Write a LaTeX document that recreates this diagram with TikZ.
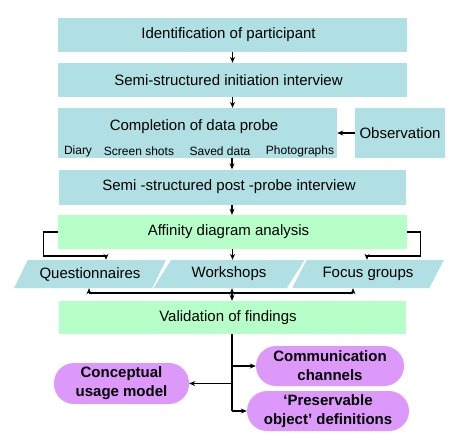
\documentclass[tikz,border=0pt]{standalone}
\usepackage{fontspec}
\setmainfont{Liberation Sans}
\usetikzlibrary{shapes.geometric,arrows.meta,calc}
\definecolor{cyanbox}{RGB}{176,224,228}
\definecolor{greenbox}{RGB}{183,255,200}
\definecolor{purplebox}{RGB}{221,153,250}
\newcommand{\textnudge}{\hspace*{8pt}}
\begin{document}
\begin{tikzpicture}[x=1pt,y=-1pt,
  bluebox/.style={fill=cyanbox,draw=none,inner sep=0pt,font=\fontsize{15}{17}\selectfont},
  greenstep/.style={fill=greenbox,draw=none,inner sep=0pt,font=\fontsize{15}{17}\selectfont},
  para/.style={trapezium,trapezium left angle=51,trapezium right angle=129,trapezium stretches=true,
    fill=cyanbox,draw=none,inner sep=0pt,minimum width=152pt,minimum height=28pt,font=\fontsize{15}{17}\selectfont},
  pill/.style={fill=purplebox,draw=none,rounded corners=20pt,inner sep=0pt,align=center,
    font=\fontsize{15}{19}\selectfont\bfseries},
  lbl/.style={inner sep=0pt,font=\fontsize{15}{17}\selectfont},
  small/.style={inner sep=0pt,font=\fontsize{12}{14}\selectfont},
  conn/.style={line width=1.2pt},
  arr/.style={line width=1.2pt,-{Stealth[length=6pt,width=5pt]}}
]
\useasboundingbox (0,0) rectangle (462,445);
\fill[white] (0,0) rectangle (462,445);

\node[bluebox,minimum width=349pt,minimum height=34pt] (b1) at (232.5,35) {Identification of participant\textnudge};
\node[bluebox,minimum width=349pt,minimum height=34pt] (b2) at (232.5,80) {Semi-structured initiation interview\textnudge};
\node[bluebox,minimum width=279pt,minimum height=50pt] (b3) at (197.5,133) {};
\node[lbl] (b3t) at (194,127) {Completion of data probe};
\node[small] (s1) at (78,151) {Diary};
\node[small] (s2) at (139,151) {Screen shots};
\node[small] (s3) at (220,151) {Saved data};
\node[small] (s4) at (300,151) {Photographs};
\node[bluebox,minimum width=90pt,minimum height=50pt] (obs) at (400,133) {Observation};
\node[bluebox,minimum width=347pt,minimum height=35pt] (b4) at (232,187) {Semi -structured post -probe interview\hspace*{6pt}};
\node[greenstep,minimum width=349pt,minimum height=34pt] (b5) at (232.5,232) {Affinity diagram analysis\textnudge};

\node[para] (q) at (90,274) {Questionnaires};
\node[para] (w) at (229,274) {Workshops};
\node[para] (f) at (368,274) {Focus groups};

\node[greenstep,minimum width=347pt,minimum height=33pt] (v) at (232,317.5) {Validation of findings\textnudge};

\node[pill,minimum width=148pt,minimum height=40pt] (c) at (330,366) {Communication\\channels};
\node[pill,minimum width=135pt,minimum height=41pt] (cu) at (121.5,383.5) {Conceptual\\usage model};
\node[pill,minimum width=162pt,minimum height=40pt] (p) at (328,411) {‘Preservable\\object’ definitions};

% vertical flow
\draw[arr] (b1.south) -- (b2.north);
\draw[arr] (b2.south) -- (b2.south |- b3.north);
\draw[arr] (b4.north |- b3.south) -- (b4.north);
\draw[arr] (obs.west) -- (b3.east);
\draw[arr] (b4.south) -- (b4.south |- b5.north);

% affinity to the three methods
\coordinate (qa) at (106,256);
\coordinate (fa) at (367,256);
\draw[arr] (b5.west) -- ++(-14,0) |- (qa) -- (qa |- q.north);
\draw[arr] (b5.east) -- ++(13,0) |- (fa) -- (fa |- f.north);
\draw[arr] (b5.south) -- (b5.south |- w.north);

% methods to validation
\coordinate (hl) at (89,293);
\coordinate (hr) at (353,293);
\draw[conn] (hl) -- (hr);
\draw[arr] (hl) -- (hl |- q.south);
\draw[arr] (hr) -- (hr |- f.south);
\draw[line width=1.2pt,{Stealth[length=6pt,width=5pt]}-{Stealth[length=6pt,width=5pt]}] (v.north |- w.south) -- (v.north);

% validation outputs
\draw[conn] (v.south) -- (v.south |- p.west);
\draw[arr] (v.south |- c.west) -- (c.west);
\draw[arr] (v.south |- cu.east) -- (cu.east);
\draw[arr] (v.south |- p.west) -- (p.west);
\end{tikzpicture}
\end{document}
